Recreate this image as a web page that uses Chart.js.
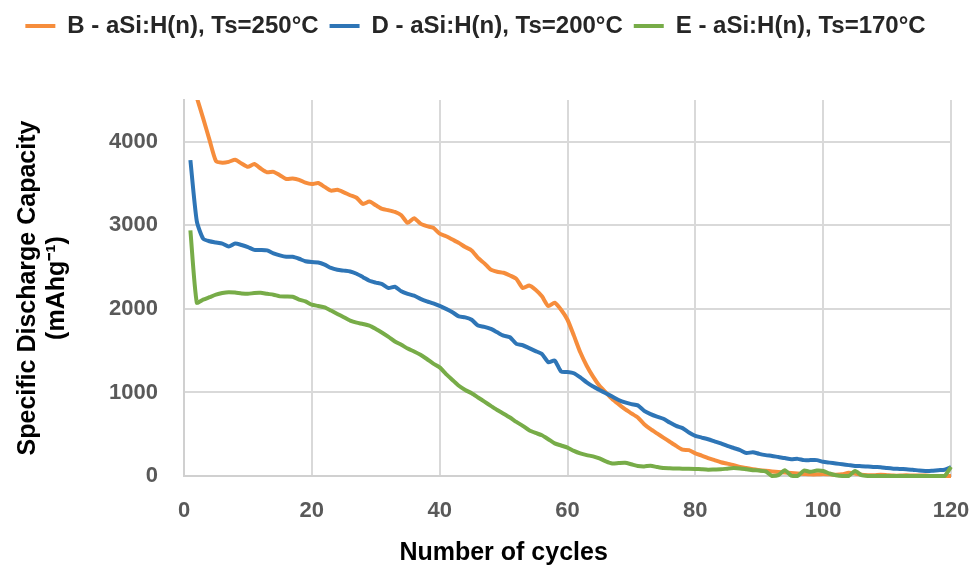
<!DOCTYPE html>
<html>
<head>
<meta charset="utf-8">
<script src="https://cdn.jsdelivr.net/npm/chart.js@4"></script>
<style>
  html, body { margin: 0; padding: 0; background: #fff; }
</style>
</head>
<body>
<canvas id="capacityChart" width="974" height="569"></canvas>
<script>
// cycle number for every measured point
const cycles = [
  1, 2, 3, 4, 5, 6, 7, 8, 9, 10, 11, 12, 13, 14, 15, 16, 17, 18, 19, 20,
  21, 22, 23, 24, 25, 26, 27, 28, 29, 30, 31, 32, 33, 34, 35, 36, 37, 38, 39, 40,
  41, 42, 43, 44, 45, 46, 47, 48, 49, 50, 51, 52, 53, 54, 55, 56, 57, 58, 59, 60,
  61, 62, 63, 64, 65, 66, 67, 68, 69, 70, 71, 72, 73, 74, 75, 76, 77, 78, 79, 80,
  81, 82, 83, 84, 85, 86, 87, 88, 89, 90, 91, 92, 93, 94, 95, 96, 97, 98, 99, 100,
  101, 102, 103, 104, 105, 106, 107, 108, 109, 110, 111, 112, 113, 114, 115, 116, 117, 118, 119, 120
];

const seriesNames = [
  'B - aSi:H(n), Ts=250°C',
  'D - aSi:H(n), Ts=200°C',
  'E - aSi:H(n), Ts=170°C'
];

// specific discharge capacity, mAh/g
const capacityB = [
  4790, 4530, 4280, 4020, 3770, 3750, 3760, 3785, 3740, 3700,
  3733, 3680, 3635, 3640, 3600, 3555, 3560, 3545, 3510, 3494,
  3506, 3460, 3415, 3425, 3395, 3360, 3330, 3256, 3284, 3240,
  3196, 3180, 3160, 3120, 3030, 3085, 3020, 2990, 2970, 2900,
  2870, 2830, 2790, 2740, 2700, 2610, 2545, 2470, 2445, 2432,
  2400, 2360, 2250, 2280, 2230, 2150, 2034, 2074, 1990, 1870,
  1680, 1480, 1320, 1190, 1080, 1000, 922, 860, 800, 750,
  700, 620, 560, 510, 460, 410, 360, 315, 310, 270,
  245, 215, 190, 165, 148, 130, 108, 95, 80, 70,
  62, 55, 48, 42, 36, 30, 25, 20, 20, 25,
  20, 15, 20, 40, 30, 15, 10, 10, 15, 10,
  5, 5, 10, 5, 5, 5, 0, 0, 0, 0
];

const capacityD = [
  3780, 3050, 2840, 2810, 2795, 2780, 2746, 2782, 2765, 2740,
  2706, 2705, 2700, 2665, 2640, 2623, 2623, 2600, 2570, 2560,
  2556, 2530, 2490, 2468, 2458, 2448, 2420, 2380, 2337, 2315,
  2297, 2250, 2265, 2210, 2180, 2158, 2120, 2090, 2065, 2035,
  2000, 1960, 1910, 1899, 1870, 1800, 1785, 1760, 1720, 1680,
  1660, 1581, 1565, 1530, 1495, 1460, 1362, 1382, 1250, 1245,
  1230, 1180, 1120, 1070, 1030, 990, 951, 910, 880, 860,
  845, 780, 740, 710, 685, 640, 600, 573, 520, 480,
  460, 440, 415, 390, 360, 335, 310, 275, 285, 265,
  250, 240, 227, 215, 200, 205, 190, 190, 190, 170,
  160, 150, 140, 130, 120, 118, 115, 108, 105, 95,
  88, 85, 80, 76, 65, 60, 62, 70, 75, 105
];

const capacityE = [
  2940, 2075, 2110, 2140, 2170, 2190, 2200, 2195, 2185, 2180,
  2190, 2192, 2180, 2170, 2150, 2148, 2145, 2112, 2090, 2050,
  2035, 2018, 1980, 1940, 1900, 1860, 1835, 1820, 1800, 1760,
  1715, 1665, 1610, 1570, 1525, 1490, 1450, 1400, 1345, 1300,
  1220, 1150, 1080, 1030, 990, 940, 890, 840, 790, 746,
  700, 647, 600, 547, 515, 488, 440, 390, 365, 340,
  300, 270, 250, 235, 210, 175, 150, 155, 158, 140,
  120, 115, 123, 108, 95, 92, 90, 88, 88, 85,
  80, 76, 78, 80, 88, 95, 90, 80, 70, 65,
  55, 0, 10, 70, 5, 0, 65, 50, 65, 60,
  30, 10, 0, 0, 60, 10, 0, 0, 0, 0,
  0, 0, 0, 0, 0, 0, 0, 0, 0, 110
];

const xTicks = [0, 20, 40, 60, 80, 100, 120];
const yTicks = [0, 1000, 2000, 3000, 4000];

const colors = ['#F68D3C', '#2E75B6', '#77AC48'];
const FONT = "'Liberation Sans', Arial, sans-serif";

function toPoints(values) {
  return cycles.map((c, i) => ({ x: c, y: values[i] }));
}

function makeDataset(idx, values) {
  return {
    label: seriesNames[idx],
    data: toPoints(values),
    borderColor: colors[idx],
    backgroundColor: colors[idx],
    borderWidth: 4,
    pointRadius: 0,
    tension: 0.2,
    order: 3 - idx,   // E on top, B at the bottom
    clip: { left: 4, top: 0, right: 4, bottom: 4 }
  };
}

// push the plot down below the legend
const legendGap = {
  id: 'legendGap',
  beforeInit(chart) {
    const fit = chart.legend.fit;
    chart.legend.fit = function () {
      fit.bind(chart.legend)();
      this.height += 52;
    };
  }
};

// x axis title, drawn under the tick labels
const xTitle = {
  id: 'xTitle',
  afterDraw(chart) {
    const ctx = chart.ctx;
    const x = chart.scales.x;
    ctx.save();
    ctx.font = 'bold 25px ' + FONT;
    ctx.fillStyle = '#000';
    ctx.textAlign = 'center';
    ctx.textBaseline = 'middle';
    ctx.fillText('Number of cycles', x.getPixelForValue(50), x.bottom - 16);
    ctx.restore();
  }
};

const ctx = document.getElementById('capacityChart').getContext('2d');

new Chart(ctx, {
  type: 'line',
  data: {
    datasets: [
      makeDataset(0, capacityB),
      makeDataset(1, capacityD),
      makeDataset(2, capacityE)
    ]
  },
  options: {
    responsive: false,
    animation: false,
    layout: { padding: { left: 0, right: 23, top: 3, bottom: 0 } },
    plugins: {
      legend: {
        position: 'top',
        labels: {
          font: { family: FONT, size: 24, weight: 'bold' },
          color: '#262626',
          usePointStyle: true,
          pointStyle: 'line',
          pointStyleWidth: 30,
          padding: 11,
          sort: (a, b) => a.datasetIndex - b.datasetIndex
        }
      },
      tooltip: { enabled: false }
    },
    scales: {
      x: {
        type: 'linear',
        min: 0,
        max: 120,
        afterBuildTicks: s => { s.ticks = xTicks.map(v => ({ value: v })); },
        afterFit: s => { s.height = 93; s.paddingRight = 0; s.paddingLeft = 0; },
        grid: { color: '#D9D9D9', lineWidth: 2, drawTicks: false },
        border: { color: '#D0D0D0', width: 2 },
        ticks: {
          padding: 22,
          maxRotation: 0,
          color: '#595959',
          font: { family: FONT, size: 22, weight: 'bold' },
          callback: v => String(v)
        }
      },
      y: {
        min: 0,
        max: 4500,
        afterBuildTicks: s => { s.ticks = yTicks.map(v => ({ value: v })); },
        afterFit: s => { s.width = 184; s.paddingTop = 0; s.paddingBottom = 0; },
        grid: { color: '#D9D9D9', lineWidth: 2, drawTicks: false },
        border: { color: '#D0D0D0', width: 2 },
        ticks: {
          padding: 26,
          color: '#595959',
          font: { family: FONT, size: 22, weight: 'bold' },
          callback: v => String(v)
        },
        title: {
          display: true,
          text: ['Specific Discharge Capacity', '(mAhg⁻¹)'],
          color: '#000',
          font: { family: FONT, size: 25, weight: 'bold', lineHeight: 1.15 },
          padding: { top: 14, bottom: 0 }
        }
      }
    }
  },
  plugins: [legendGap, xTitle]
});
</script>
</body>
</html>
